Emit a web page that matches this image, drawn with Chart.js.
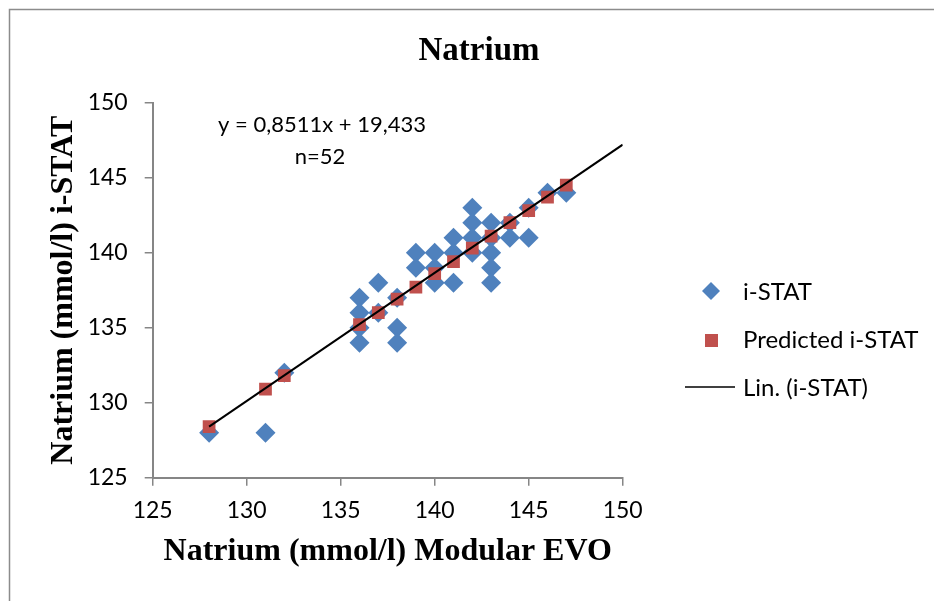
<!DOCTYPE html>
<html>
<head>
<meta charset="utf-8">
<script src="https://cdn.jsdelivr.net/npm/chart.js@4"></script>
<style>
  html, body { margin: 0; padding: 0; background: #fff; }
  #chart { display: block; }
</style>
</head>
<body>
<canvas id="chart" width="934" height="601"></canvas>
<script>
// measured pairs: Modular EVO (x) vs i-STAT (y)
const evoValues = [128, 131, 132, 136, 136, 136, 136, 137, 137, 138, 138, 138,
  139, 139, 140, 140, 140, 141, 141, 141, 142, 142, 142, 142,
  143, 143, 143, 143, 143, 144, 144, 145, 145, 146, 147];
const istatValues = [128, 128, 132, 137, 136, 135, 134, 138, 136, 137, 135, 134,
  140, 139, 140, 139, 138, 141, 140, 138, 143, 142, 141, 140,
  142, 141, 140, 139, 138, 142, 141, 143, 141, 144, 144];

// predicted i-STAT at each distinct x
const predictedX = [128, 131, 132, 136, 137, 138, 139, 140, 141, 142, 143, 144, 145, 146, 147];
const predictedY = [128.4, 130.9, 131.8, 135.2, 136.0, 136.9, 137.7, 138.6, 139.4, 140.3, 141.1, 142.0, 142.8, 143.7, 144.5];

// trend line end points
const trendX = [128, 150];
const trendY = [128.4, 147.2];

const axisMin = 125, axisMax = 150, axisStep = 5;

const BLUE = "#4f81bd";
const RED = "#c0504d";
const AXIS = "#868686";
const LABEL_FONT = "Lato, 'Open Sans', sans-serif";
const SERIF = "'Liberation Serif', 'Times New Roman', serif";

const toPoints = (xs, ys) => xs.map((x, i) => ({ x, y: ys[i] }));

const decor = {
  id: "decor",
  afterDraw(chart) {
    const ctx = chart.ctx;
    ctx.save();

    // outer frame (only left and top edges visible)
    ctx.strokeStyle = "#8c8c8c";
    ctx.lineWidth = 1.5;
    ctx.beginPath();
    ctx.moveTo(9.5, 601);
    ctx.lineTo(9.5, 9.5);
    ctx.lineTo(934, 9.5);
    ctx.stroke();

    // title
    ctx.fillStyle = "#000";
    ctx.font = "bold 33px " + SERIF;
    ctx.textAlign = "center";
    ctx.textBaseline = "middle";
    ctx.fillText("Natrium", 479, 51);

    // equation box
    ctx.font = "22px " + LABEL_FONT;
    ctx.fillText("y = 0,8511x + 19,433", 322, 125);
    ctx.fillText("n=52", 320, 157);

    // legend
    ctx.textAlign = "left";
    ctx.font = "24px " + LABEL_FONT;

    ctx.fillStyle = BLUE;
    ctx.beginPath();
    ctx.moveTo(711, 282); ctx.lineTo(720, 291); ctx.lineTo(711, 300); ctx.lineTo(702, 291);
    ctx.closePath();
    ctx.fill();

    ctx.fillStyle = RED;
    ctx.fillRect(705, 334, 13, 13);

    ctx.strokeStyle = "#000";
    ctx.lineWidth = 1.5;
    ctx.beginPath();
    ctx.moveTo(685, 387);
    ctx.lineTo(735, 387);
    ctx.stroke();

    ctx.fillStyle = "#000";
    ctx.fillText("i-STAT", 743, 292);
    ctx.fillText("Predicted i-STAT", 743, 340);
    ctx.fillText("Lin. (i-STAT)", 743, 388);

    ctx.restore();
  }
};

new Chart(document.getElementById("chart"), {
  type: "scatter",
  data: {
    datasets: [
      {
        label: "i-STAT",
        data: toPoints(evoValues, istatValues),
        pointStyle: "rectRot",
        pointRadius: 10,
        backgroundColor: BLUE,
        borderColor: BLUE,
        borderWidth: 0,
        order: 3
      },
      {
        label: "Predicted i-STAT",
        data: toPoints(predictedX, predictedY),
        pointStyle: "rect",
        pointRadius: 9,
        backgroundColor: RED,
        borderColor: RED,
        borderWidth: 0,
        order: 2
      },
      {
        label: "Lin. (i-STAT)",
        type: "line",
        data: toPoints(trendX, trendY),
        showLine: true,
        pointRadius: 0,
        borderColor: "#000",
        borderWidth: 2,
        fill: false,
        order: 1
      }
    ]
  },
  options: {
    responsive: false,
    devicePixelRatio: 1,
    animation: false,
    events: [],
    layout: { padding: { left: 10, top: 102.7, right: 311.3, bottom: 0 } },
    plugins: {
      legend: { display: false },
      title: { display: false },
      tooltip: { enabled: false }
    },
    scales: {
      x: {
        type: "linear",
        min: axisMin,
        max: axisMax,
        afterFit: s => { s.height = 123.3; },
        ticks: { stepSize: axisStep, color: "#000", padding: 11, font: { family: LABEL_FONT, size: 23 } },
        grid: { drawOnChartArea: false, drawTicks: true, tickLength: 8, color: AXIS, lineWidth: 1.5 },
        border: { display: true, color: AXIS, width: 2 },
        title: {
          display: true,
          text: "Natrium (mmol/l) Modular EVO",
          color: "#000",
          font: { family: SERIF, size: 32, weight: "bold" },
          padding: { top: 0, bottom: 30 }
        }
      },
      y: {
        type: "linear",
        min: axisMin,
        max: axisMax,
        afterFit: s => { s.width = 142.7; },
        ticks: { stepSize: axisStep, color: "#000", padding: 17, font: { family: LABEL_FONT, size: 23 } },
        grid: { drawOnChartArea: false, drawTicks: true, tickLength: 8, color: AXIS, lineWidth: 1.5 },
        border: { display: true, color: AXIS, width: 2 },
        title: {
          display: true,
          text: "Natrium (mmol/l) i-STAT",
          color: "#000",
          font: { family: SERIF, size: 32, weight: "bold" },
          padding: { top: 35, bottom: 0 }
        }
      }
    }
  },
  plugins: [decor]
});
</script>
</body>
</html>
